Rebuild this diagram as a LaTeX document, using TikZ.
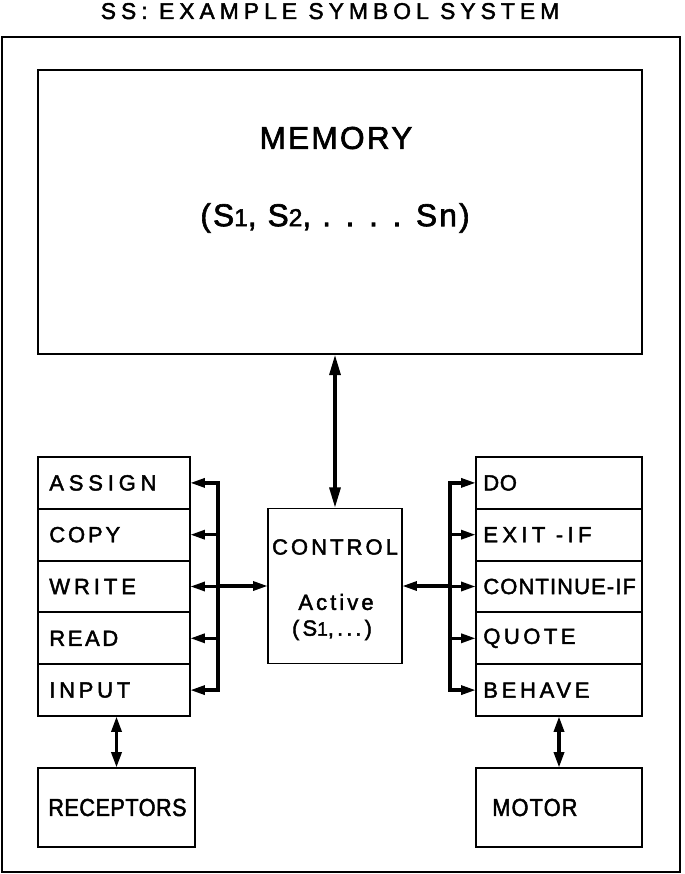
\documentclass[tikz,border=0pt]{standalone}
\usepackage{fontspec}
\setmainfont{Liberation Sans}
\usetikzlibrary{arrows.meta,positioning}
% size and letter spacing of the hand lettering
\newcommand\lettering[2][12.5]{\fontsize{#1}{#1}\selectfont\addfontfeature{LetterSpace=#2,FakeBold=2}}
\newcommand\narrowlettering[2][14]{\fontsize{#1}{#1}\selectfont\addfontfeature{LetterSpace=#2,FakeBold=2,FakeStretch=0.88}}
\newcommand\sdig[2]{{\fontsize{#1}{#1}\selectfont #2}}
\tikzset{
  % frames and boxes
  frameline/.style = {line width=1.1pt},
  box/.style       = {draw, line width=1.1pt, rectangle, inner sep=0pt, outer sep=0pt},
  leftcell/.style  = {box, anchor=north west, minimum width=3.04cm, minimum height=1.036cm},
  rightcell/.style = {box, anchor=north west, minimum width=3.32cm, minimum height=1.036cm},
  celltext/.style  = {anchor=west, inner sep=0pt},
  % texts
  titletext/.style = {inner sep=0pt, font={\lettering[13]{22}}},
  memtext/.style   = {inner sep=0pt, font={\lettering[18]{7}}},
  ctrltext/.style  = {inner sep=0pt, font={\lettering{14}}},
  % connectors
  busline/.style   = {line width=2.3pt, line cap=rect},
  tip/.style       = {line width=2pt, -{Triangle[length=8.5pt, width=5pt]}},
  twotip/.style    = {line width=2.2pt, {Triangle[length=9pt, width=5.5pt]}-{Triangle[length=9pt, width=5.5pt]}},
  bigtwotip/.style = {line width=2.4pt, {Triangle[length=12pt, width=6pt]}-{Triangle[length=12pt, width=6pt]}},
}
\begin{document}
\begin{tikzpicture}[x=0.02cm, y=-0.02cm]
  \useasboundingbox (0,0) rectangle (684,874);
  % Outer frame and title
  \draw[frameline] (2,37) rectangle (680,872);
  \node[titletext, anchor=base] (title) at (330,19) {SS: EXAMPLE SYMBOL SYSTEM};
  % Memory
  \node[box, minimum width=12.08cm, minimum height=5.68cm] (memory) at (340,212) {};
  \node[memtext] (memname) at (336,138) {MEMORY};
  \node[memtext] (memvars) at (335,218) {(S\sdig{14}{1}, S\sdig{14}{2}, . . . .  Sn)};
  % Control
  \node[box, minimum width=2.68cm, minimum height=3.1cm] (control) at (335,586) {};
  \node[ctrltext] (ctrlname) at (335,547) {CONTROL};
  \node[ctrltext] (ctrlact) at (336,602) {Active};
  \node[ctrltext] (ctrlvars) at (332,630) {(S\sdig{11}{1},...)};
  % Left column of operators
  \foreach \nm/\txt/\ls [count=\i from 0] in
    {assign/ASSIGN/22, copy/COPY/13, write/WRITE/18, read/READ/12, input/INPUT/17} {
    \node[leftcell] (\nm) at (38,457+\i*51.8) {};
    \node[celltext, font=\lettering{\ls}] (\nm-t) at ([xshift=0.22cm]\nm.west) {\txt};
  }
  % Right column of operators
  \foreach \nm/\txt/\ls [count=\i from 0] in
    {do/DO/3, exitif/EXIT -IF/20, contif/CONTINUE-IF/5, quote/QUOTE/16, behave/BEHAVE/17} {
    \node[rightcell] (\nm) at (476,457+\i*51.8) {};
    \node[celltext, font=\lettering{\ls}] (\nm-t) at ([xshift=0.14cm]\nm.west) {\txt};
  }
  % Receptors and motor
  \node[box, minimum width=3.14cm, minimum height=1.58cm] (receptors) at (116.5,807.5) {};
  \node[celltext, font={\narrowlettering{2}}] (receptors-t) at ([xshift=0.2cm]receptors.west) {RECEPTORS};
  \node[box, minimum width=3.32cm, minimum height=1.58cm] (motor) at (559,807.5) {};
  \node[celltext, font={\narrowlettering{5}}] (motor-t) at ([xshift=0.32cm]motor.west) {MOTOR};
  % Buses
  \coordinate (lbus) at (218,586);
  \coordinate (rbus) at (450,586);
  \draw[busline] (assign.east -| lbus) -- (input.east -| lbus);
  \draw[busline] (do.west -| rbus) -- (behave.west -| rbus);
  \foreach \nm in {assign,copy,write,read,input}
    \draw[tip] (\nm.east -| lbus) -- (\nm.east);
  \foreach \nm in {do,exitif,contif,quote,behave}
    \draw[tip] (\nm.west -| rbus) -- (\nm.west);
  \draw[tip] (lbus) -- (control.west);
  \draw[tip] (rbus) -- (control.east);
  % Two-way links
  \draw[bigtwotip] (control.north |- memory.south) -- (control.north);
  \draw[twotip] (receptors.north |- input.south) -- (receptors.north);
  \draw[twotip] (motor.north |- behave.south) -- (motor.north);
\end{tikzpicture}
\end{document}
